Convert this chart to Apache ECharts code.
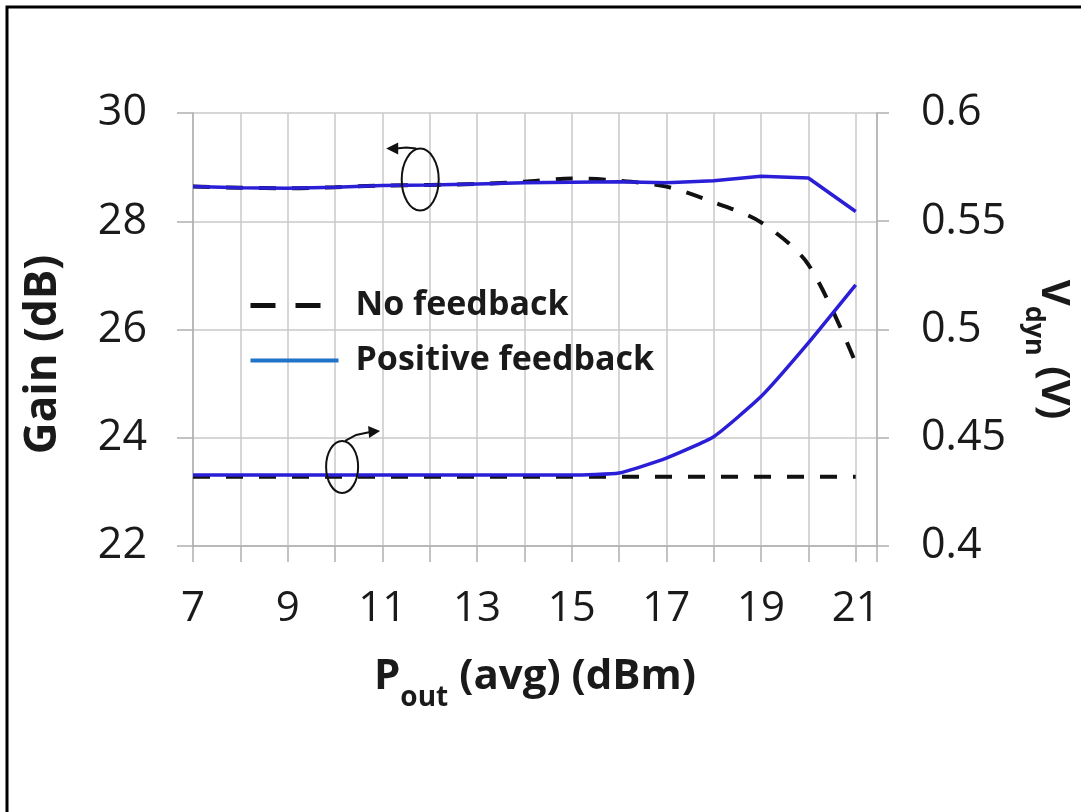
<!DOCTYPE html>
<html>
<head>
<meta charset="utf-8">
<script src="https://cdn.jsdelivr.net/npm/echarts@6/dist/echarts.min.js"></script>
<style>
html,body{margin:0;padding:0;background:#fff;}
#chart{width:1081px;height:812px;}
</style>
</head>
<body>
<div id="chart"></div>
<script>
// ---- data ----
const pout = [7, 8, 9, 10, 11, 12, 13, 14, 15, 16, 17, 18, 19, 20, 21];
const gainNoFeedback  = [28.64, 28.62, 28.61, 28.63, 28.66, 28.67, 28.69, 28.73, 28.79, 28.75, 28.64, 28.35, 27.98, 27.2, 25.38];
const gainPosFeedback = [28.64, 28.62, 28.61, 28.63, 28.66, 28.67, 28.69, 28.71, 28.72, 28.73, 28.71, 28.75, 28.83, 28.8, 28.18];
const vdynNoFeedback  = [0.432, 0.432, 0.432, 0.432, 0.432, 0.432, 0.432, 0.432, 0.432, 0.432, 0.432, 0.432, 0.432, 0.432, 0.432];
const vdynPosFeedback = [0.4328, 0.4328, 0.4328, 0.4328, 0.4328, 0.4328, 0.4328, 0.4328, 0.4328, 0.4337, 0.4406, 0.4505, 0.469, 0.4938, 0.5206];
const xTickLabels = [7, 9, 11, 13, 15, 17, 19, 21];
const yLeftTickLabels = [22, 24, 26, 28, 30];
const yRightTickLabels = ['0.4', '0.45', '0.5', '0.55', '0.6'];

const FONT = 'Open Sans';
const TXT = '#1a1a1a';
const GRID = '#c8c8c8';
const AXIS = '#b0b0b0';
const BLUE = '#2a1fd6';
const LEG_BLUE = '#1f73c8';

const pairs = (ys) => pout.map((x, i) => [x, ys[i]]);

const chart = echarts.init(document.getElementById('chart'), null, {renderer: 'canvas'});

const option = {
  animation: false,
  backgroundColor: '#ffffff',
  grid: {left: 193, right: 202, top: 113, bottom: 266, containLabel: false},
  xAxis: {
    type: 'value', min: 7, max: 21.45, interval: 1,
    axisLine: {show: true, lineStyle: {color: AXIS, width: 1.5}},
    axisTick: {show: true, length: 16, lineStyle: {color: AXIS, width: 1.5}},
    splitLine: {show: true, lineStyle: {color: GRID, width: 1.5}},
    axisLabel: {
      fontFamily: FONT, fontSize: 42, color: TXT, margin: 42,
      formatter: (v) => xTickLabels.indexOf(v) >= 0 ? String(v) : ''
    },
    name: '{b|P}{s|out}{b| (avg) (dBm)}',
    nameLocation: 'middle', nameGap: 110,
    nameTextStyle: {
      rich: {
        b: {fontFamily: FONT, fontSize: 42, fontWeight: 'bold', color: TXT, lineHeight: 50, verticalAlign: 'top'},
        s: {fontFamily: FONT, fontSize: 28, fontWeight: 'bold', color: TXT, lineHeight: 28, padding: [28, 0, 0, 0], verticalAlign: 'top'}
      }
    }
  },
  yAxis: [
    {
      type: 'value', min: 22, max: 30, interval: 2, position: 'left',
      axisLine: {show: true, lineStyle: {color: AXIS, width: 1.5}},
      axisTick: {show: true, length: 16, lineStyle: {color: AXIS, width: 1.5}},
      splitLine: {show: true, lineStyle: {color: GRID, width: 1.5}},
      axisLabel: {
        fontFamily: FONT, fontSize: 43, color: TXT, margin: 46,
        formatter: (v) => yLeftTickLabels.indexOf(v) >= 0 ? String(v) : ''
      },
      name: 'Gain (dB)', nameLocation: 'middle', nameRotate: 90, nameGap: 128,
      nameTextStyle: {fontFamily: FONT, fontSize: 44, fontWeight: 'bold', color: TXT, padding: [0, 50, 0, 0]}
    },
    {
      type: 'value', min: 0.4, max: 0.6, interval: 0.05, position: 'right',
      axisLine: {show: true, lineStyle: {color: AXIS, width: 1.5}},
      axisTick: {show: true, length: 12, lineStyle: {color: AXIS, width: 1.5}},
      splitLine: {show: false},
      axisLabel: {
        fontFamily: FONT, fontSize: 43, color: TXT, margin: 44,
        formatter: (v, i) => yRightTickLabels[i] !== undefined ? yRightTickLabels[i] : ''
      },
      name: '{b|V}{s|dyn}{b| (V)}', nameLocation: 'middle', nameRotate: -90, nameGap: 148,
      nameTextStyle: {
        padding: [0, 0, 0, 40],
        rich: {
          b: {fontFamily: FONT, fontSize: 40, fontWeight: 'bold', color: TXT, lineHeight: 48, verticalAlign: 'top'},
          s: {fontFamily: FONT, fontSize: 27, fontWeight: 'bold', color: TXT, lineHeight: 27, padding: [26, 0, 0, 0], verticalAlign: 'top'}
        }
      }
    }
  ],
  legend: {
    orient: 'vertical', left: 243, top: 282, selectedMode: false,
    itemWidth: 88, itemHeight: 14, itemGap: 18,
    textStyle: {fontFamily: FONT, fontSize: 34, fontWeight: 'bold', color: TXT, lineHeight: 37, padding: [0, 0, 0, 12]},
    data: [
      {name: 'No feedback', lineStyle: {color: '#111', width: 5, type: [25, 20]},
       itemStyle: {color: 'rgba(0,0,0,0)', borderWidth: 0, opacity: 0}},
      {name: 'Positive feedback', lineStyle: {color: LEG_BLUE, width: 4},
       itemStyle: {color: 'rgba(0,0,0,0)', borderWidth: 0, opacity: 0}}
    ]
  },
  series: [
    {name: 'No feedback', type: 'line', yAxisIndex: 0, data: pairs(gainNoFeedback), symbol: 'none', smooth: 0.3,
     lineStyle: {color: '#111', width: 4, type: [17, 16]}, itemStyle: {color: '#111'}, z: 2},
    {name: 'No feedback', type: 'line', yAxisIndex: 1, data: pairs(vdynNoFeedback), symbol: 'none',
     lineStyle: {color: '#111', width: 4, type: [17, 16]}, itemStyle: {color: '#111'}, z: 2},
    {name: 'Positive feedback', type: 'line', yAxisIndex: 0, data: pairs(gainPosFeedback), symbol: 'none',
     lineStyle: {color: BLUE, width: 3.5}, itemStyle: {color: BLUE}, z: 3},
    {name: 'Positive feedback', type: 'line', yAxisIndex: 1, data: pairs(vdynPosFeedback), symbol: 'none', smooth: 0.15,
     lineStyle: {color: BLUE, width: 3.5}, itemStyle: {color: BLUE}, z: 3}
  ]
};
chart.setOption(option);

// ---- annotations (positioned through the axes) ----
const upC = chart.convertToPixel({xAxisIndex: 0, yAxisIndex: 0}, [11.8, 28.77]);
const loC = chart.convertToPixel({xAxisIndex: 0, yAxisIndex: 1}, [10.15, 0.4365]);
const st = {fill: 'none', stroke: '#111', lineWidth: 2};
const upRx = 18.5, upRy = 31, loRx = 16, loRy = 26;
chart.setOption({
  graphic: [
    {type: 'rect', shape: {x: 7, y: 7, width: 1200, height: 1000}, style: {fill: 'none', stroke: '#000', lineWidth: 3}, z: 100, silent: true},
    {type: 'ellipse', shape: {cx: upC[0], cy: upC[1], rx: upRx, ry: upRy}, style: st, z: 50},
    {type: 'polyline', shape: {points: [[upC[0] - 4, upC[1] - upRy], [upC[0] - 14, upC[1] - upRy - 1], [upC[0] - 24, upC[1] - upRy]]}, style: {stroke: '#111', lineWidth: 2, fill: 'none'}, z: 50},
    {type: 'polygon', shape: {points: [[upC[0] - 34, upC[1] - upRy], [upC[0] - 22, upC[1] - upRy - 6], [upC[0] - 22, upC[1] - upRy + 6]]}, style: {fill: '#111'}, z: 50},
    {type: 'ellipse', shape: {cx: loC[0], cy: loC[1], rx: loRx, ry: loRy}, style: st, z: 50},
    {type: 'polyline', shape: {points: [[loC[0] + 3, loC[1] - loRy], [loC[0] + 14, loC[1] - loRy - 6], [loC[0] + 28, loC[1] - loRy - 9]]}, style: {stroke: '#111', lineWidth: 2, fill: 'none'}, z: 50},
    {type: 'polygon', shape: {points: [[loC[0] + 38, loC[1] - loRy - 10], [loC[0] + 26, loC[1] - loRy - 15], [loC[0] + 27, loC[1] - loRy - 3]]}, style: {fill: '#111'}, z: 50}
  ]
});
</script>
</body>
</html>
